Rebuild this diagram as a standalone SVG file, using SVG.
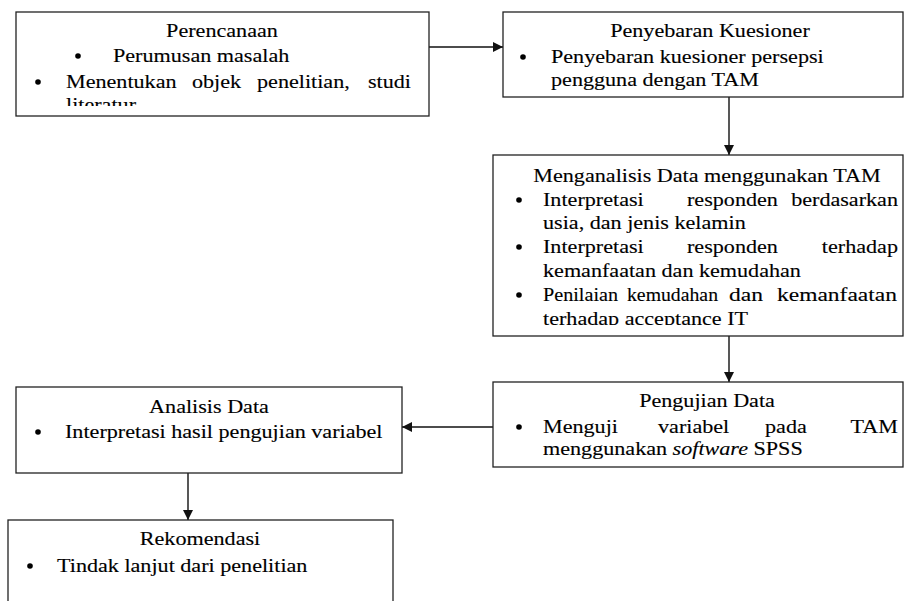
<svg xmlns="http://www.w3.org/2000/svg" width="904" height="601" viewBox="0 0 904 601">
<style>
.box{fill:#fff;stroke:#222;stroke-width:1.3}
text{font-family:"Liberation Serif","Times New Roman",serif;font-size:18px;fill:#000;stroke:#000;stroke-width:0.12}
.c{text-anchor:middle}
.e{text-anchor:end}
.conn{stroke:#111;stroke-width:1.4;fill:none}
.b{fill:#000}
</style>
<defs>
<marker id="ah" viewBox="0 0 10 10" refX="10" refY="5" markerWidth="10" markerHeight="10" markerUnits="userSpaceOnUse" orient="auto">
<path d="M0,0 L10,5 L0,10 z" fill="#111"/>
</marker>
<clipPath id="clip1"><rect x="16" y="12" width="413" height="94"/></clipPath>
<clipPath id="clip3"><rect x="493" y="155" width="410" height="170"/></clipPath>
</defs>
<rect width="904" height="601" fill="#fff"/>
<g id="connectors">
<line class="conn" x1="429" y1="47" x2="503" y2="47" marker-end="url(#ah)"/>
<line class="conn" x1="729" y1="97" x2="729" y2="155" marker-end="url(#ah)"/>
<line class="conn" x1="729" y1="336" x2="729" y2="382" marker-end="url(#ah)"/>
<line class="conn" x1="493" y1="427" x2="402" y2="427" marker-end="url(#ah)"/>
<line class="conn" x1="188" y1="473" x2="188" y2="520" marker-end="url(#ah)"/>
</g>
<g id="perencanaan">
<rect class="box" x="16" y="12" width="413" height="104"/>
<g clip-path="url(#clip1)">
<text class="c" transform="translate(222 37) scale(1.23 1)">Perencanaan</text>
<circle class="b" cx="78" cy="56" r="2.8"/>
<text transform="translate(113 62) scale(1.23 1)">Perumusan masalah</text>
<circle class="b" cx="38" cy="82" r="2.8"/>
<text transform="translate(66 88) scale(1.23 1)">Menentukan</text>
<text transform="translate(192 88) scale(1.23 1)">objek</text>
<text transform="translate(257 88) scale(1.23 1)">penelitian,</text>
<text class="e" transform="translate(411 88) scale(1.23 1)">studi</text>
<text transform="translate(66 111) scale(1.23 1)">literatur</text>
</g>
</g>
<g id="penyebaran">
<rect class="box" x="503" y="12" width="400" height="85"/>
<text class="c" transform="translate(710 37) scale(1.23 1)">Penyebaran Kuesioner</text>
<circle class="b" cx="523" cy="57" r="2.8"/>
<text transform="translate(551 63) scale(1.23 1)">Penyebaran kuesioner persepsi</text>
<text transform="translate(551 86) scale(1.23 1)">pengguna dengan TAM</text>
</g>
<g id="menganalisis">
<rect class="box" x="493" y="155" width="410" height="181"/>
<g clip-path="url(#clip3)">
<text class="c" transform="translate(707 182) scale(1.23 1)">Menganalisis Data menggunakan TAM</text>
<circle class="b" cx="519" cy="200" r="2.8"/>
<text transform="translate(543 206) scale(1.23 1)">Interpretasi</text>
<text transform="translate(687 206) scale(1.23 1)">responden</text>
<text class="e" transform="translate(898 206) scale(1.23 1)">berdasarkan</text>
<text transform="translate(543 229) scale(1.23 1)">usia, dan jenis kelamin</text>
<circle class="b" cx="519" cy="247" r="2.8"/>
<text transform="translate(543 253) scale(1.23 1)">Interpretasi</text>
<text transform="translate(687 253) scale(1.23 1)">responden</text>
<text class="e" transform="translate(898 253) scale(1.23 1)">terhadap</text>
<text transform="translate(543 277) scale(1.23 1)">kemanfaatan dan kemudahan</text>
<circle class="b" cx="519" cy="295" r="2.8"/>
<text x="543" y="301" textLength="75" lengthAdjust="spacingAndGlyphs">Penilaian</text>
<text x="627" y="301" textLength="91" lengthAdjust="spacingAndGlyphs">kemudahan</text>
<text x="729" y="301" textLength="34" lengthAdjust="spacingAndGlyphs">dan</text>
<text x="777" y="301" textLength="120" lengthAdjust="spacingAndGlyphs">kemanfaatan</text>
<text transform="translate(543 325) scale(1.23 1)">terhadap acceptance IT</text>
</g>
</g>
<g id="pengujian">
<rect class="box" x="493" y="382" width="410" height="85"/>
<text class="c" transform="translate(707 407) scale(1.23 1)">Pengujian Data</text>
<circle class="b" cx="519" cy="427" r="2.8"/>
<text transform="translate(543 433) scale(1.23 1)">Menguji</text>
<text transform="translate(658 433) scale(1.23 1)">variabel</text>
<text transform="translate(765 433) scale(1.23 1)">pada</text>
<text class="e" transform="translate(898 433) scale(1.23 1)">TAM</text>
<text transform="translate(543 455) scale(1.23 1)">menggunakan <tspan font-style="italic">software</tspan> SPSS</text>
</g>
<g id="analisis">
<rect class="box" x="16" y="387" width="386" height="86"/>
<text class="c" transform="translate(209 413) scale(1.23 1)">Analisis Data</text>
<circle class="b" cx="38" cy="432" r="2.8"/>
<text transform="translate(65 438) scale(1.23 1)">Interpretasi hasil pengujian variabel</text>
</g>
<g id="rekomendasi">
<rect class="box" x="8" y="520" width="385" height="90"/>
<text class="c" transform="translate(200 545) scale(1.23 1)">Rekomendasi</text>
<circle class="b" cx="30" cy="566" r="2.8"/>
<text transform="translate(57 572) scale(1.23 1)">Tindak lanjut dari penelitian</text>
</g>
</svg>
